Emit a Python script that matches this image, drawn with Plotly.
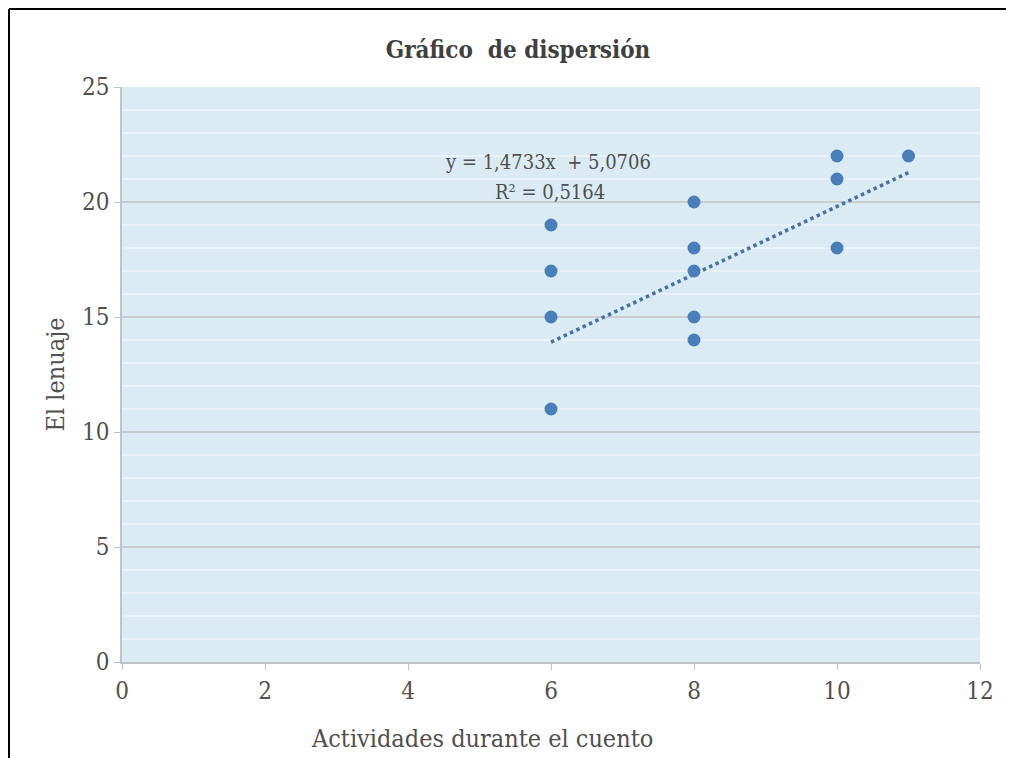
import plotly.graph_objects as go

x_vals = [6, 6, 6, 6, 8, 8, 8, 8, 8, 10, 10, 10, 11]
y_vals = [19, 17, 15, 11, 20, 18, 17, 15, 14, 22, 21, 18, 22]
trend_slope = 1.4733
trend_intercept = 5.0706
trend_r2 = 0.5164
trend_x = [6, 11]
x_ticks = [0, 2, 4, 6, 8, 10, 12]
y_ticks = [0, 5, 10, 15, 20, 25]

FONT = "DejaVu Serif Condensed, DejaVu Serif, Liberation Serif, serif"
TXT = "#505050"

W, H = 1006, 750
L, T, PW, PH = 114, 79, 858, 575
R = W - L - PW
B = H - T - PH

trend_y = [trend_slope * v + trend_intercept for v in trend_x]

fig = go.Figure()
fig.add_trace(go.Scatter(x=trend_x, y=trend_y, mode="lines",
                         line=dict(color="#4A6FA5", width=3.5, dash="dot"),
                         hoverinfo="skip", showlegend=False))
fig.add_trace(go.Scatter(x=x_vals, y=y_vals, mode="markers",
                         marker=dict(color="#4A7EBB", size=13),
                         showlegend=False))

fig.add_annotation(x=5.96, y=21.74, xref="x", yref="y",
                   text="y = 1,4733x  + 5,0706", xanchor="center", yanchor="middle",
                   showarrow=False, font=dict(family=FONT, size=20, color=TXT))
fig.add_annotation(x=5.98, y=20.43, xref="x", yref="y",
                   text="R² = 0,5164", xanchor="center", yanchor="middle",
                   showarrow=False, font=dict(family=FONT, size=20, color=TXT))

# x axis title (offset left of centre as in the reference)
fig.add_annotation(x=(482 - 122) / 858, y=-(738 - 662) / 575, xref="paper", yref="paper",
                   xanchor="center", yanchor="middle",
                   text="Actividades durante el cuento", showarrow=False,
                   font=dict(family=FONT, size=25, color=TXT))

fig.update_layout(
    width=W, height=H,
    paper_bgcolor="white", plot_bgcolor="#DAEBF3",
    margin=dict(l=L, r=R, t=T, b=B),
    title=dict(text="<b>Gráfico  de dispersión</b>", x=510 / W, xanchor="center",
               y=1 - 42 / H, yanchor="middle",
               font=dict(family=FONT, size=24, color="#404040")),
    font=dict(family=FONT, color=TXT),
    xaxis=dict(range=[0, 12], tickvals=x_ticks, showgrid=False, zeroline=False,
               showline=True, linecolor="#BFC4C7", linewidth=1.5,
               ticks="outside", tickcolor="#BFC4C7", ticklen=6,
               tickfont=dict(family=FONT, size=24, color=TXT)),
    yaxis=dict(range=[0, 25], tickvals=y_ticks, zeroline=False,
               showgrid=True, gridcolor="#C8CDD0", gridwidth=2,
               showline=True, linecolor="#BFC4C7", linewidth=1.5,
               ticks="outside", tickcolor="#BFC4C7", ticklen=6,
               tickfont=dict(family=FONT, size=24, color=TXT),
               minor=dict(dtick=1, showgrid=True, gridcolor="#E8F2F7", gridwidth=1.5),
               title=dict(text="El lenuaje",
                          font=dict(family=FONT, size=25, color=TXT), standoff=10)),
)

# outer frame lines (top and left)
fig.add_shape(type="line", xref="paper", yref="paper",
              x0=-(L - 1) / PW, x1=(W - L) / PW, y0=1 + (T - 1) / PH, y1=1 + (T - 1) / PH,
              line=dict(color="black", width=2))
fig.add_shape(type="line", xref="paper", yref="paper",
              x0=-(L - 1) / PW, x1=-(L - 1) / PW, y0=-B / PH, y1=1 + (T - 1) / PH,
              line=dict(color="black", width=2))

fig.write_html("out.html")
